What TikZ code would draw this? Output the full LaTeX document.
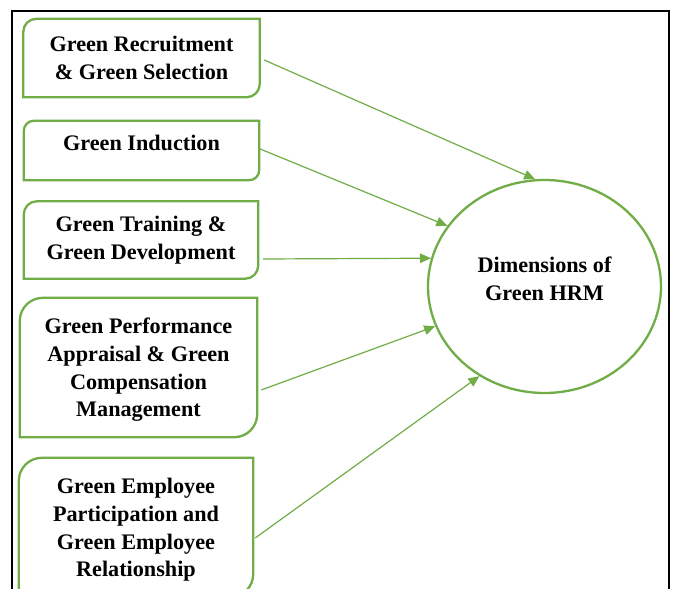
\documentclass[tikz,border=0pt]{standalone}
\usepackage{fontspec}
\setmainfont{Liberation Serif}
\usetikzlibrary{arrows.meta,shapes.geometric}
\definecolor{ogreen}{RGB}{112,173,71}
\tikzset{
  txtfont/.style={font=\bfseries\fontsize{22.2}{27.7}\selectfont, text=black},
  box/.style={rectangle, inner sep=0pt, align=center, txtfont},
  boxline/.style={draw=ogreen, line width=2.3pt},
  link/.style={draw=ogreen, line width=1.2pt, -{Triangle[length=11pt,width=9.5pt]}},
  hub/.style={ellipse, draw=ogreen, line width=2.3pt, inner sep=0pt,
    minimum width=233pt, minimum height=213pt, align=center, txtfont},
  outerframe/.style={draw=black, line width=1.3pt}
}
\newcommand\rdcoutline[2]{%
  \draw[boxline] ([yshift=-#2]#1.north west) arc[start angle=180,end angle=90,radius=#2]
    -- (#1.north east) -- ([yshift=#2]#1.south east)
    arc[start angle=0,end angle=-90,radius=#2] -- (#1.south west) -- cycle;}
\begin{document}
\begin{tikzpicture}[x=1pt,y=-1pt]
\clip (0,0) rectangle (673,589);
\fill[white] (0,0) rectangle (673,589);
\draw[outerframe] (12,11) rectangle (669,640);

\node[box, minimum width=236pt, minimum height=78pt] (b1) at (141.5,58)
  {Green Recruitment\\\& Green Selection};
\node[box, minimum width=235pt, minimum height=59pt, text depth=15pt] (b2) at (141.5,150.5)
  {Green Induction};
\node[box, minimum width=234pt, minimum height=77pt] (b3) at (141,240)
  {Green Training \&\\Green Development};
\node[box, minimum width=237pt, minimum height=139pt, text depth=0pt] (b4) at (138.5,367.5)
  {Green Performance\\Appraisal \& Green\\Compensation\\Management};
\node[box, minimum width=234pt, minimum height=139pt, text depth=0pt] (b5) at (136,527.5)
  {Green Employee\\Participation and\\Green Employee\\Relationship};

\rdcoutline{b1}{13pt}
\rdcoutline{b2}{10pt}
\rdcoutline{b3}{13pt}
\rdcoutline{b4}{23pt}
\rdcoutline{b5}{23pt}

\node[hub, text depth=16pt] (c) at (544.5,286.5) {Dimensions of\\Green HRM};

\draw[link] ([shift={(4.5,2)}]b1.east) -- (c.95);
\draw[link] ([shift={(1,-1.5)}]b2.east) -- (c.148);
\draw[link] ([shift={(5,19)}]b3.east) -- (c.166);
\draw[link] ([shift={(4,22.5)}]b4.east) -- (c.200.6);
\draw[link] ([shift={(2,10.5)}]b5.east) -- (c.234.7);
\end{tikzpicture}
\end{document}
